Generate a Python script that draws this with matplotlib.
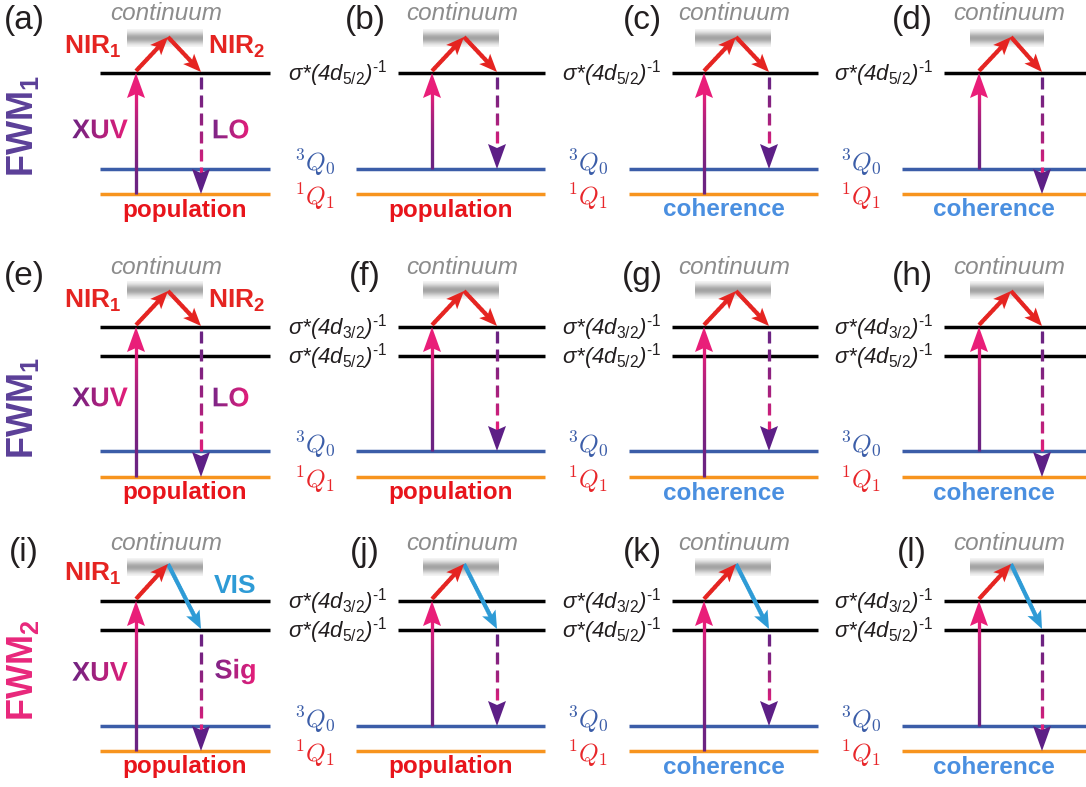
import numpy as np
import matplotlib
matplotlib.use("Agg")
import matplotlib.pyplot as plt
import matplotlib.transforms as mtrans
from matplotlib.collections import LineCollection
from matplotlib.patches import Polygon, PathPatch
from matplotlib.colors import to_rgb
from matplotlib.textpath import TextPath
from matplotlib.font_manager import FontProperties

plt.rcParams["font.family"] = ["Liberation Sans", "DejaVu Sans"]
plt.rcParams["mathtext.fontset"] = "custom"
plt.rcParams["mathtext.rm"] = "Liberation Sans"
plt.rcParams["mathtext.it"] = "Liberation Sans:italic"
plt.rcParams["mathtext.bf"] = "Liberation Sans:bold"

# --- diagram content -------------------------------------------------------
panel_labels = [["(a)", "(b)", "(c)", "(d)"],
                ["(e)", "(f)", "(g)", "(h)"],
                ["(i)", "(j)", "(k)", "(l)"]]
row_names = [r"FWM$_\mathbf{1}$", r"FWM$_\mathbf{1}$", r"FWM$_\mathbf{2}$"]
row_colors = ["#5b3f98", "#5b3f98", "#e8277b"]
core_levels = [["5/2"], ["3/2", "5/2"], ["3/2", "5/2"]]
xuv_from = ["1Q1", "3Q0", "1Q1", "3Q0"]
lo_to = ["1Q1", "3Q0", "3Q0", "1Q1"]
kind = ["population", "population", "coherence", "coherence"]
pulse_names = [[r"NIR$_\mathbf{1}$", r"NIR$_\mathbf{2}$", "XUV", "LO"],
               [r"NIR$_\mathbf{1}$", r"NIR$_\mathbf{2}$", "XUV", "LO"],
               [r"NIR$_\mathbf{1}$", "VIS", "XUV", "Sig"]]
valence_names = {"3Q0": r"$^3Q_0$", "1Q1": r"$^1Q_1$"}
core_fmt = "σ*(4$d_{\\mathit{%s}}$)$^{\\mathit{\u20101}}$"

# --- colours ------------------------------------------------------------
RED, PINK, PURPLE, DPURPLE = "#e52421", "#e91e79", "#6a2382", "#5d1f86"
BLUE_LVL, ORANGE, VIS = "#3b5da8", "#f7941e", "#2e9bd6"
kind_colors = {"population": "#e8141b", "coherence": "#4a8fe0"}
lvl_colors = {"3Q0": BLUE_LVL, "1Q1": ORANGE}
lab_colors = {"3Q0": "#3b5da8", "1Q1": "#e8262a"}

# --- layout (pixels) -----------------------------------------------------
col_x0 = [100, 356, 629, 902]
col_core_x0 = [100, 398, 672, 944]
col_x1 = [270, 545, 818, 1086]
col_xuv = [136, 432, 704, 979]
col_lo = [201, 497, 769, 1042]
col_tag = [24, 365, 642, 912]
row_top = [73, 327, 601]
row_low = [73, 356, 630]
row_lvl = [{"3Q0": 169, "1Q1": 194}, {"3Q0": 451, "1Q1": 477},
           {"3Q0": 726, "1Q1": 751}]
row_gray = [(30, 46), (282, 298), (559, 575)]
row_apex = [37, 291, 564]
row_cont = [13, 268, 543]
row_tag = [21, 277, 552]
row_name_y = [126, 408, 670]


def mix(c0, c1, t):
    c0, c1 = np.array(to_rgb(c0)), np.array(to_rgb(c1))
    return c0 + (c1 - c0) * t


def head(ax, tip, tail, color, L, W, notch=4, z=6):
    tip = np.asarray(tip, float)
    d = tip - np.asarray(tail, float)
    d /= np.hypot(*d)
    n = np.array([-d[1], d[0]])
    base = tip - d * L
    pts = [tip, base + n * W / 2, tip - d * (L - notch), base - n * W / 2]
    ax.add_patch(Polygon(pts, closed=True, fc=color, ec="none", zorder=z))
    return tip - d * (L - notch - 1)


def shaft(ax, p0, p1, c0, c1, lw, dash=None, gamma=1.0, z=5):
    p0, p1 = np.asarray(p0, float), np.asarray(p1, float)
    length = np.hypot(*(p1 - p0))
    u = (p1 - p0) / length
    if dash:
        on, off = dash
        spans = [(s, min(s + on, length)) for s in np.arange(0, length, on + off)]
    else:
        spans = [(0, length)]
    segs, cols = [], []
    for a, b in spans:
        for t in np.arange(a, b, 2.0):
            t2 = min(t + 2.6, b)
            segs.append([p0 + u * t, p0 + u * t2])
            cols.append(mix(c0, c1, ((t + t2) / 2 / length) ** gamma))
    ax.add_collection(LineCollection(segs, colors=cols, linewidths=lw,
                                     capstyle="butt", zorder=z))


def arrow(ax, p0, p1, c0, c1, hc, L, W, lw, dash=None, gamma=1.0):
    end = head(ax, p1, p0, hc, L, W)
    shaft(ax, p0, end, c0, c1, lw, dash, gamma)


def grad_text(ax, x, y, s, size, c0, c1):
    tp = TextPath((0, 0), s, size=size * 100 / 72,
                  prop=FontProperties(family="Liberation Sans", weight="bold"))
    bb = tp.get_extents()
    tr = (mtrans.Affine2D().translate(-(bb.x0 + bb.x1) / 2, -(bb.y0 + bb.y1) / 2)
          .scale(1, -1).translate(x, y) + ax.transData)
    patch = PathPatch(tp, transform=tr, fc="none", ec="none")
    ax.add_patch(patch)
    img = np.array([[mix(c0, c1, t) for t in np.linspace(0, 1, 64)]])
    w, h = bb.width / 2 + 2, bb.height / 2 + 2
    im = ax.imshow(img, extent=(x - w, x + w, y + h, y - h), aspect="auto",
                   interpolation="bilinear", zorder=7)
    im.set_clip_path(patch)


fig = plt.figure(figsize=(10.86, 7.87), dpi=100)
ax = fig.add_axes([0, 0, 1, 1])

# soft grey band for the continuum
prof = np.linspace(0, 1, 60)
gray_img = np.zeros((60, 1, 4))
gray_img[..., :3] = 0.58
gray_img[:, 0, 3] = 0.85 * np.exp(-((prof - 0.5) / 0.33) ** 2)

for r in range(3):
    top, low, lvl = row_top[r], row_low[r], row_lvl[r]
    ax.text(23, row_name_y[r], row_names[r], rotation=90, ha="center",
            va="center", fontsize=26, fontweight="bold", color=row_colors[r])
    for c in range(4):
        xuv, lo = col_xuv[c], col_lo[c]
        apex = xuv + 32
        # levels
        for y in sorted({top, low}):
            ax.plot([col_core_x0[c], col_x1[c]], [y, y], color="black", lw=2.5,
                    solid_capstyle="butt", zorder=2)
        for key in ["3Q0", "1Q1"]:
            ax.plot([col_x0[c], col_x1[c]], [lvl[key]] * 2, color=lvl_colors[key],
                    lw=2.5, solid_capstyle="butt", zorder=2)
        # continuum band
        g0, g1 = row_gray[r]
        ax.imshow(gray_img, extent=(xuv - 9, lo + 2, g1 + 1, g0 - 1),
                  aspect="auto", interpolation="bilinear", zorder=1)
        ax.text(apex - 2, row_cont[r], "continuum", ha="center", va="center",
                fontsize=17.5, fontstyle="italic", color="#8c8c8c")
        ax.text(col_tag[c], row_tag[r], panel_labels[r][c], ha="center",
                va="center", fontsize=24, color="#231f20")
        # pulses
        arrow(ax, (xuv, top - 2), (apex, row_apex[r]), RED, RED, RED, 18, 15, 3)
        end_y = top if r < 2 else low
        c2 = RED if r < 2 else VIS
        arrow(ax, (apex, row_apex[r]), (lo, end_y - 1), c2, c2, c2, 18, 15, 3)
        arrow(ax, (xuv, lvl[xuv_from[c]]), (xuv, top), PURPLE, PINK, PINK,
              25, 18, 2.3, gamma=1.8)
        arrow(ax, (lo, end_y + 4), (lo, lvl[lo_to[c]]), PURPLE, PINK, DPURPLE,
              25, 18, 2.3, dash=(12, 6), gamma=1.5)
        # labels
        ax.text((col_x0[c] + col_x1[c]) / 2, lvl["1Q1"] + 16, kind[c],
                ha="center", va="center", fontsize=17.5, fontweight="bold",
                color=kind_colors[kind[c]])
        if c > 0:
            for y, j in zip(sorted({top, low}), core_levels[r]):
                ax.text(col_core_x0[c] - 11, y + 1, core_fmt % j,
                        ha="right", va="center", fontsize=16,
                        fontstyle="italic", color="#231f20")
            for key, dy in [("3Q0", -6), ("1Q1", 3)]:
                ax.text(col_x0[c] - 21, lvl[key] + dy, valence_names[key],
                        ha="right", va="center", fontsize=18,
                        color=lab_colors[key], math_fontfamily="cm")
        else:
            names = pulse_names[r]
            ax.text(93, row_apex[r] + 10, names[0], ha="center", va="center",
                    fontsize=19, fontweight="bold", color=RED)
            ax.text(237 if r < 2 else 235, row_apex[r] + (10 if r < 2 else 22),
                    names[1], ha="center", va="center", fontsize=19,
                    fontweight="bold", color=RED if r < 2 else VIS)
            mid = (top + lvl["3Q0"]) / 2 + 8
            grad_text(ax, 100, mid, names[2], 19.5, PURPLE, PINK)
            grad_text(ax, 231 if r < 2 else 235, mid, names[3], 19.5,
                      "#7a2588", PINK)

ax.set_xlim(0, 1086)
ax.set_ylim(787, 0)
ax.axis("off")
fig.savefig("out.png", dpi=100)
